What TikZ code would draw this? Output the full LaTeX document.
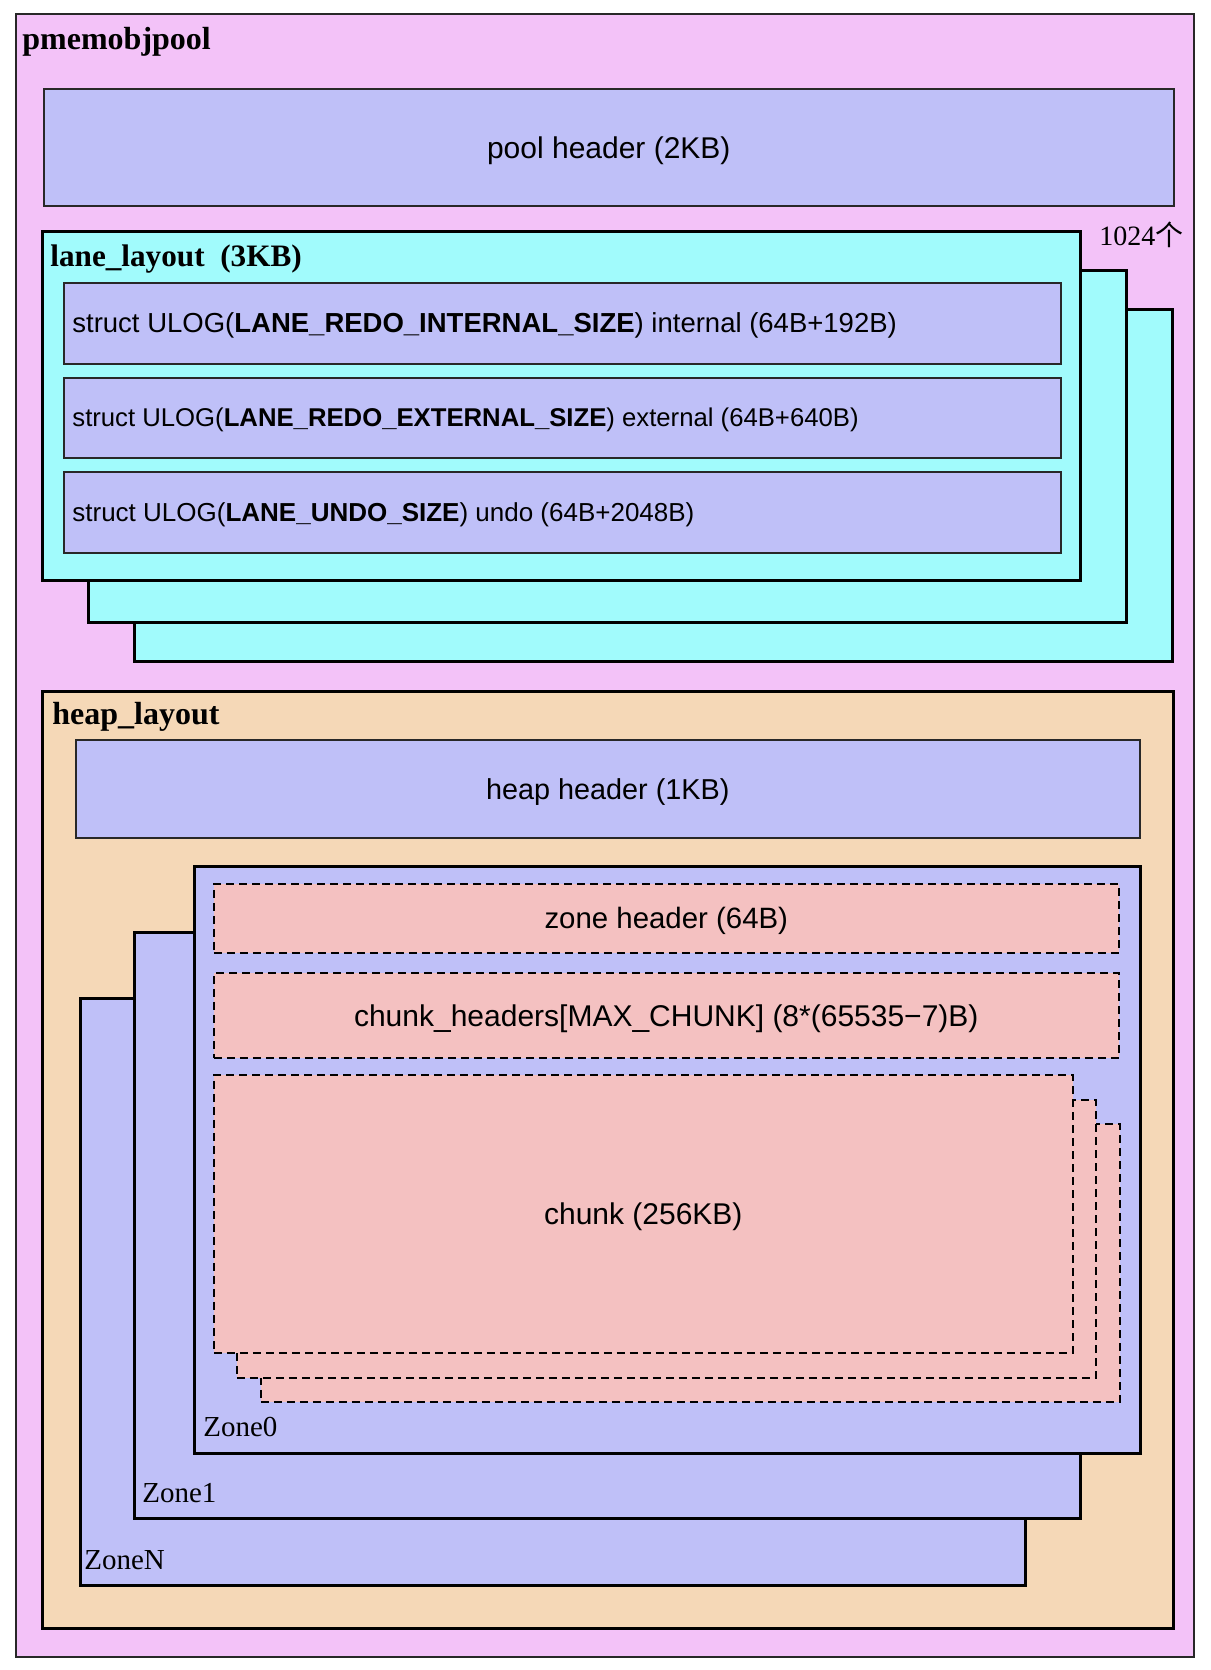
\documentclass[tikz,border=0pt]{standalone}
\usepackage{fontspec}
\setmainfont{Liberation Serif}
\setsansfont{Liberation Sans}
\newfontfamily\cjkfont{Noto Sans CJK SC}
\usepackage{tikz}
\usetikzlibrary{positioning, calc}
\usepackage{xcolor}
\definecolor{PoolPink}{RGB}{243, 194, 248}
\definecolor{HdrLavender}{RGB}{191, 192, 248}
\definecolor{LaneCyan}{RGB}{161, 251, 252}
\definecolor{HeapTan}{RGB}{245, 216, 183}
\definecolor{ChunkRose}{RGB}{244, 193, 193}
\definecolor{EdgeGray}{RGB}{40, 40, 40}
\tikzset{
    % size of a box in pixels of the reference (1px = 0.5pt)
    dims/.style 2 args={
        minimum width=#1*0.5pt,
        minimum height=#2*0.5pt,
        anchor=north west,
        inner sep=0pt
    },
    % Outer pool frame
    poolbox/.style={
        draw=EdgeGray,
        fill=PoolPink,
        line width=0.8pt
    },
    % Header boxes (pool, heap, ulog)
    hdrbox/.style={
        draw=EdgeGray,
        fill=HdrLavender,
        line width=0.8pt
    },
    % Lane layout copies
    lanebox/.style={
        draw=black,
        fill=LaneCyan,
        line width=1.6pt
    },
    % Heap layout frame
    heapbox/.style={
        draw=black,
        fill=HeapTan,
        line width=1.6pt
    },
    % Zones
    zonebox/.style={
        draw=black,
        fill=HdrLavender,
        line width=1.6pt
    },
    % Dashed zone parts
    partbox/.style={
        draw=black,
        fill=ChunkRose,
        line width=0.8pt,
        dash pattern=on 4pt off 2.5pt
    },
    % Centered sans labels
    boxtext/.style={
        yshift=-1.5pt,
        font=\sffamily\fontsize{#1}{18pt}\selectfont
    },
    boxtext/.default=15pt,
    % Bold serif titles
    boxtitle/.style={
        anchor=base west,
        inner sep=0pt,
        font=\bfseries\fontsize{16pt}{19pt}\selectfont
    },
    zonetitle/.style={
        anchor=base west,
        inner sep=0pt,
        font=\fontsize{14.5pt}{17pt}\selectfont
    },
    ulogtext/.style={
        anchor=west,
        inner sep=0pt,
        yshift=-1.2pt,
        font=\sffamily\fontsize{#1}{16pt}\selectfont
    }
}

\begin{document}
\begin{tikzpicture}[x=0.5pt, y=-0.5pt]
    \useasboundingbox (0,0) rectangle (1210,1670);

    % ==========================================
    % POOL
    % ==========================================
    \node[poolbox, dims={1178}{1643}] (pool) at (15,13) {};
    \node[boxtitle] (pooltitle) at (22,49) {pmemobjpool};
    \node[hdrbox, dims={1130}{117}] (poolhdr) at (43,88) {};
    \node[boxtext] (poolhdrtxt) at (poolhdr.center) {pool header (2KB)};

    % ==========================================
    % LANES
    % ==========================================
    \foreach \l/\dx/\dy in {lane3/92/78, lane2/46/39} {
        \node[lanebox, dims={1038}{352}] (\l) at (41+\dx, 230+\dy) {};
    }
    \node[lanebox, dims={1038}{349}] (lane1) at (41,230) {};
    \node[boxtitle, font=\bfseries\fontsize{15.6pt}{19pt}\selectfont] (lanetitle) at (50,266) {lane\_layout~~(3KB)};
    \node[anchor=base west, inner sep=0pt, font=\fontsize{14pt}{17pt}\selectfont] (lanecount) at (1099,245) {1024{\cjkfont 个}};

    % ULOG boxes
    \node[hdrbox, dims={997}{81}] (ulogint) at (63,282) {};
    \node[hdrbox, dims={997}{80}] (ulogext) at (63,377) {};
    \node[hdrbox, dims={997}{81}] (ulogundo) at (63,471) {};
    \node[ulogtext=13.75pt, right=9*0.5pt of ulogint.west] (uloginttxt)
        {struct ULOG(\textbf{LANE\_REDO\_INTERNAL\_SIZE}) internal (64B+192B)};
    \node[ulogtext=12.85pt, right=9*0.5pt of ulogext.west] (ulogexttxt)
        {struct ULOG(\textbf{LANE\_REDO\_EXTERNAL\_SIZE}) external (64B+640B)};
    \node[ulogtext=13pt, right=9*0.5pt of ulogundo.west] (ulogundotxt)
        {struct ULOG(\textbf{LANE\_UNDO\_SIZE}) undo (64B+2048B)};

    % ==========================================
    % HEAP
    % ==========================================
    \node[heapbox, dims={1131}{937}] (heap) at (41,690) {};
    \node[boxtitle] (heaptitle) at (52,724) {heap\_layout};
    \node[hdrbox, dims={1064}{98}] (heaphdr) at (75,739) {};
    \node[boxtext=14.4pt] (heaphdrtxt) at (heaphdr.center) {heap header (1KB)};

    % Zones (back to front)
    \node[zonebox, dims={945}{587}] (zoneN) at (79,997) {};
    \node[zonetitle] (zoneNtitle) at (84,1569) {ZoneN};
    \node[zonebox, dims={946}{586}] (zone1) at (133,931) {};
    \node[zonetitle] (zone1title) at (142,1502) {Zone1};
    \node[zonebox, dims={946}{587}] (zone0) at (193,865) {};
    \node[zonetitle] (zone0title) at (203,1436) {Zone0};

    % Zone parts
    \node[partbox, dims={905}{69}] (zonehdr) at (213,883) {};
    \node[boxtext=14.7pt] (zonehdrtxt) at (zonehdr.center) {zone header (64B)};
    \node[partbox, dims={905}{85}] (chunkhdrs) at (213,972) {};
    \node[boxtext] (chunkhdrstxt) at (chunkhdrs.center)
        {chunk\_headers[MAX\_CHUNK] (8*(65535\textminus7)B)};

    % Chunks (back to front)
    \foreach \c/\dx/\dy in {chunk3/47/49, chunk2/23/25, chunk1/0/0} {
        \node[partbox, dims={859}{278}] (\c) at (213+\dx, 1074+\dy) {};
    }
    \node[boxtext] (chunktxt) at (chunk1.center) {chunk (256KB)};

\end{tikzpicture}
\end{document}
